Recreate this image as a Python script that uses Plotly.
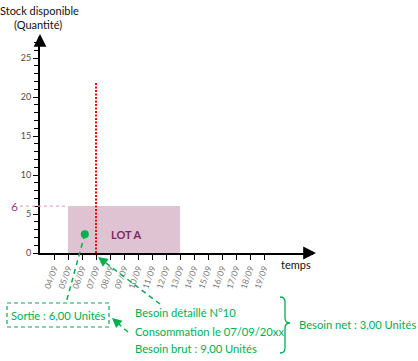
import plotly.graph_objects as go
import math

# ---------------- data ----------------
day_labels = ['04/09', '05/09', '06/09', '07/09', '08/09', '09/09', '10/09', '11/09',
              '12/09', '13/09', '14/09', '15/09', '16/09', '17/09', '18/09', '19/09']
day_index = list(range(1, len(day_labels) + 1))   # 03/09 = 0 (origin)
y_ticks = [0, 5, 10, 15, 20, 25]

lot_name = 'LOT A'
lot_start = 2      # 05/09
lot_end = 10       # 13/09
lot_qty = 6

consumption_day = 4        # 07/09
consumption_line_top = 22
sortie_point_x = [3.2]
sortie_point_y = [2.4]
lot_label_pos = (6.15, 2.4)

sortie_text = 'Sortie : 6,00 Unités'
besoin_lines = ['Besoin détaillé N°10', 'Consommation le 07/09/20xx', 'Besoin brut : 9,00 Unités']
besoin_net_text = 'Besoin net : 3,00 Unités'

# ---------------- layout helpers ----------------
W, H = 418, 361
ML, MR, MT, MB = 40, 105, 37, 108
PW, PH = W - ML - MR, H - MT - MB
PX_PER_DAY = 14
PX_PER_UNIT = 7.8
x_range = [0, PW / PX_PER_DAY]
y_range = [0, PH / PX_PER_UNIT]


def X(px):
    return (px - ML) / PW


def Y(py):
    return (H - MB - py) / PH


def data_px(x, y):
    return ML + x * PX_PER_DAY, H - MB - y * PX_PER_UNIT


GREEN = '#00b050'
FONT = 'Lato'
GSIZE = 11.2
GDASH = '5px,4px'

fig = go.Figure()

# lot rectangle (bar)
fig.add_trace(go.Bar(x=[(lot_start + lot_end) / 2], y=[lot_qty], width=[lot_end - lot_start],
                     marker=dict(color='#dfc3d3', line=dict(width=0)), hoverinfo='skip',
                     showlegend=False))
# consumption dotted red line
fig.add_trace(go.Scatter(x=[consumption_day, consumption_day], y=[0, consumption_line_top],
                         mode='lines', line=dict(color='#ff0000', width=2, dash='2px,1.5px'),
                         hoverinfo='skip', showlegend=False))
# sortie point
fig.add_trace(go.Scatter(x=sortie_point_x, y=sortie_point_y, mode='markers',
                         marker=dict(color=GREEN, size=8), hoverinfo='skip', showlegend=False,
                         cliponaxis=False))

shapes = []
annotations = []

# dotted pink line at y=6 from left label to lot start
shapes.append(dict(type='line', xref='paper', yref='y', x0=X(20), x1=X(data_px(lot_start, 0)[0]),
                   y0=lot_qty, y1=lot_qty, line=dict(color='#e8a8c8', width=1.2, dash='dot')))
annotations.append(dict(xref='paper', yref='y', x=X(14), y=lot_qty, text=str(lot_qty),
                        showarrow=False, font=dict(family=FONT, size=12, color='#9b3d8c'),
                        xanchor='center', yanchor='middle'))

# LOT A
annotations.append(dict(xref='x', yref='y', x=lot_label_pos[0], y=lot_label_pos[1],
                        text='<b>' + lot_name + '</b>', showarrow=False,
                        font=dict(family=FONT, size=11, color='#7a2a62')))

# axis arrows
annotations.append(dict(xref='paper', yref='paper', x=0, y=Y(34), ax=0, ay=10, axref='pixel',
                        ayref='pixel', text='', showarrow=True, arrowhead=2, arrowsize=1.6,
                        arrowwidth=1.6, arrowcolor='black'))
annotations.append(dict(xref='paper', yref='paper', x=X(316), y=0, ax=-10, ay=0, text='',
                        showarrow=True, arrowhead=2, arrowsize=1.6, arrowwidth=1.6,
                        arrowcolor='black'))

# axis titles
annotations.append(dict(xref='paper', yref='paper', x=X(39), y=Y(10), text='Stock disponible',
                        showarrow=False, font=dict(family=FONT, size=11, color='#111'),
                        xanchor='center', yanchor='middle'))
annotations.append(dict(xref='paper', yref='paper', x=X(38), y=Y(25), text='(Quantité)',
                        showarrow=False, font=dict(family=FONT, size=11, color='#111'),
                        xanchor='center', yanchor='middle'))
annotations.append(dict(xref='paper', yref='paper', x=X(296), y=Y(264), text='temps',
                        showarrow=False, font=dict(family=FONT, size=11, color='#111'),
                        xanchor='center', yanchor='middle'))

# sortie box + dashed link from point
dot_px = data_px(sortie_point_x[0], sortie_point_y[0])
shapes.append(dict(type='line', xref='paper', yref='paper', x0=X(dot_px[0]), y0=Y(dot_px[1]),
                   x1=X(66), y1=Y(303), line=dict(color=GREEN, width=1.5, dash=GDASH)))
shapes.append(dict(type='rect', xref='paper', yref='paper', x0=X(7), x1=X(109), y0=Y(303),
                   y1=Y(327), line=dict(color=GREEN, width=1.2, dash='4px,3px')))
annotations.append(dict(xref='paper', yref='paper', x=X(58), y=Y(315.5), text=sortie_text,
                        showarrow=False, font=dict(family=FONT, size=GSIZE, color=GREEN),
                        xanchor='center', yanchor='middle'))


def dashed_arrow(tail, head):
    dx, dy = tail[0] - head[0], tail[1] - head[1]
    L = math.hypot(dx, dy)
    ux, uy = dx / L, dy / L
    shapes.append(dict(type='line', xref='paper', yref='paper', x0=X(tail[0]), y0=Y(tail[1]),
                       x1=X(head[0] + ux * 6), y1=Y(head[1] + uy * 6),
                       line=dict(color=GREEN, width=1.5, dash=GDASH)))
    annotations.append(dict(xref='paper', yref='paper', x=X(head[0]), y=Y(head[1]),
                            ax=ux * 8, ay=uy * 8, axref='pixel', ayref='pixel', text='',
                            showarrow=True, arrowhead=2, arrowsize=1.3, arrowwidth=1.5,
                            arrowcolor=GREEN))


dashed_arrow((160, 304), (98, 257))
dashed_arrow((128, 332), (112, 318))

# besoin texts
for txt, py in zip(besoin_lines, [312, 331, 348]):
    annotations.append(dict(xref='paper', yref='paper', x=X(133), y=Y(py), text=txt,
                            showarrow=False, font=dict(family=FONT, size=GSIZE, color=GREEN),
                            xanchor='left', yanchor='middle'))
annotations.append(dict(xref='paper', yref='paper', x=X(297), y=Y(324), text=besoin_net_text,
                        showarrow=False, font=dict(family=FONT, size=GSIZE, color=GREEN),
                        xanchor='left', yanchor='middle'))

# curly brace
pts = [(280, 297), (285, 297), (285, 302), (285, 318), (285, 323), (290, 323),
       (285, 323), (285, 328), (285, 348), (285, 353), (280, 353)]
P = [f'{X(a):.5f},{Y(b):.5f}' for a, b in pts]
brace = (f'M {P[0]} Q {P[1]} {P[2]} L {P[3]} Q {P[4]} {P[5]} '
         f'Q {P[6]} {P[7]} L {P[8]} Q {P[9]} {P[10]}')
shapes.append(dict(type='path', xref='paper', yref='paper', path=brace,
                   line=dict(color=GREEN, width=1.3)))

fig.update_layout(
    width=W, height=H, margin=dict(l=ML, r=MR, t=MT, b=MB, pad=0),
    paper_bgcolor='white', plot_bgcolor='white',
    shapes=shapes, annotations=annotations, showlegend=False, bargap=0,
    xaxis=dict(range=x_range, tickvals=day_index, ticktext=day_labels, tickangle=-70,
               ticks='outside', ticklen=5, tickcolor='black', tickwidth=1.2,
               showline=True, linecolor='black', linewidth=2, showgrid=False, zeroline=False,
               tickfont=dict(family=FONT, size=8.5, color='#7a7a7a'), fixedrange=True),
    yaxis=dict(range=y_range, tickvals=y_ticks, ticks='outside', ticklen=5, tickcolor='black',
               tickwidth=1.2, showline=True, linecolor='black', linewidth=2, showgrid=False,
               zeroline=False, tickfont=dict(family=FONT, size=9, color='#5a4a3a'),
               minor=dict(dtick=1, ticks='outside', ticklen=4, tickcolor='black', tickwidth=1,
                          showgrid=False),
               fixedrange=True),
)

fig.write_html('out.html', config={'displayModeBar': False},
               post_script="document.body.style.margin='0';")
